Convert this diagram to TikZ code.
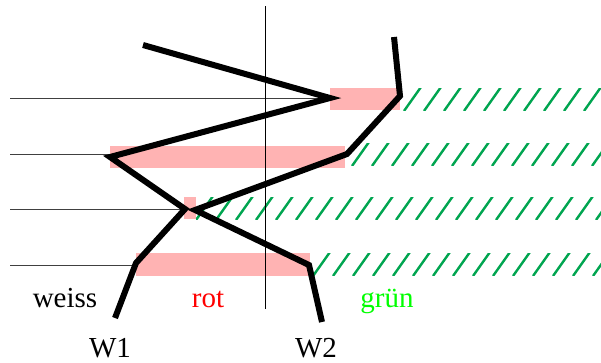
\documentclass[tikz,border=0pt]{standalone}
\usepackage{fontspec}
\setmainfont{Liberation Serif}
\definecolor{pinkbar}{RGB}{255,179,179}
\definecolor{hatchgreen}{RGB}{0,165,80}
\definecolor{textgreen}{RGB}{0,255,0}
\definecolor{textred}{RGB}{255,0,0}
\tikzset{
  pinkfill/.style={fill=pinkbar, draw=none},
  hatchline/.style={draw=hatchgreen, line width=2.4pt},
  thinline/.style={draw=black!75, line width=1pt},
  wire/.style={draw=black, line width=6pt, line join=miter},
  lbl/.style={font=\fontsize{29}{31}\selectfont, anchor=base, inner sep=0pt}
}
\begin{document}
\begin{tikzpicture}[x=1pt,y=-1pt]
\useasboundingbox (0,0) rectangle (601,362);
% pink bars
\fill[pinkfill] (330,88) rectangle (400,110);
\fill[pinkfill] (110,146) rectangle (345,168);
\fill[pinkfill] (184,197) rectangle (196,219);
\fill[pinkfill] (136,253) rectangle (310,276);
% hatched bands
\begin{scope}
\clip (401,88) rectangle (601,110);
\foreach \x in {404,424,...,604} \draw[hatchline] (\x,111) -- ++(17,-24);
\end{scope}
\begin{scope}
\clip (348,143) rectangle (601,165);
\foreach \x in {352,372,...,604} \draw[hatchline] (\x,166) -- ++(17,-24);
\end{scope}
\begin{scope}
\clip (196,197) rectangle (601,219);
\foreach \x in {196,216,...,604} \draw[hatchline] (\x,220) -- ++(17,-24);
\end{scope}
\begin{scope}
\clip (311,253) rectangle (601,275);
\foreach \x in {313,333,...,604} \draw[hatchline] (\x,276) -- ++(17,-24);
\end{scope}
% thin reference lines
\coordinate (h1) at (10,98);
\coordinate (h2) at (10,154);
\coordinate (h3) at (10,209);
\coordinate (h4) at (10,265);
\coordinate (vt) at (265,6);
\coordinate (vb) at (265,309);
% wire W1 points
\coordinate (a0) at (115,318);
\coordinate (a1) at (136,263);
\coordinate (a2) at (185,209);
\coordinate (a3) at (110,157);
\coordinate (a4) at (330,98);
\coordinate (a5) at (143,45);
% wire W2 points
\coordinate (b0) at (322,322);
\coordinate (b1) at (309,265);
\coordinate (b2) at (195,210);
\coordinate (b3) at (347,154);
\coordinate (b4) at (400,96);
\coordinate (b5) at (394,37);
\draw[thinline] (h1) -- (h1 -| a4);
\draw[thinline] (h2) -- (h2 -| a3);
\draw[thinline] (h3) -- (h3 -| a2);
\draw[thinline] (h4) -- (h4 -| a1);
\draw[thinline, draw=black] (vt) -- (vb);
% thick wires
\draw[wire] (a0) -- (a1) -- (a2) -- (a3) -- (a4) -- (a5);
\draw[wire] (b0) -- (b1) -- (b2) -- (b3) -- (b4) -- (b5);
% labels
\node[lbl] (weiss) at (65,307) {weiss};
\node[lbl, text=textred] (rot) at (208,307) {rot};
\node[lbl, text=textgreen] (gruen) at (387,307) {grün};
\node[lbl] (w1) at (110,357) {W1};
\node[lbl] (w2) at (316,357) {W2};
\end{tikzpicture}
\end{document}
